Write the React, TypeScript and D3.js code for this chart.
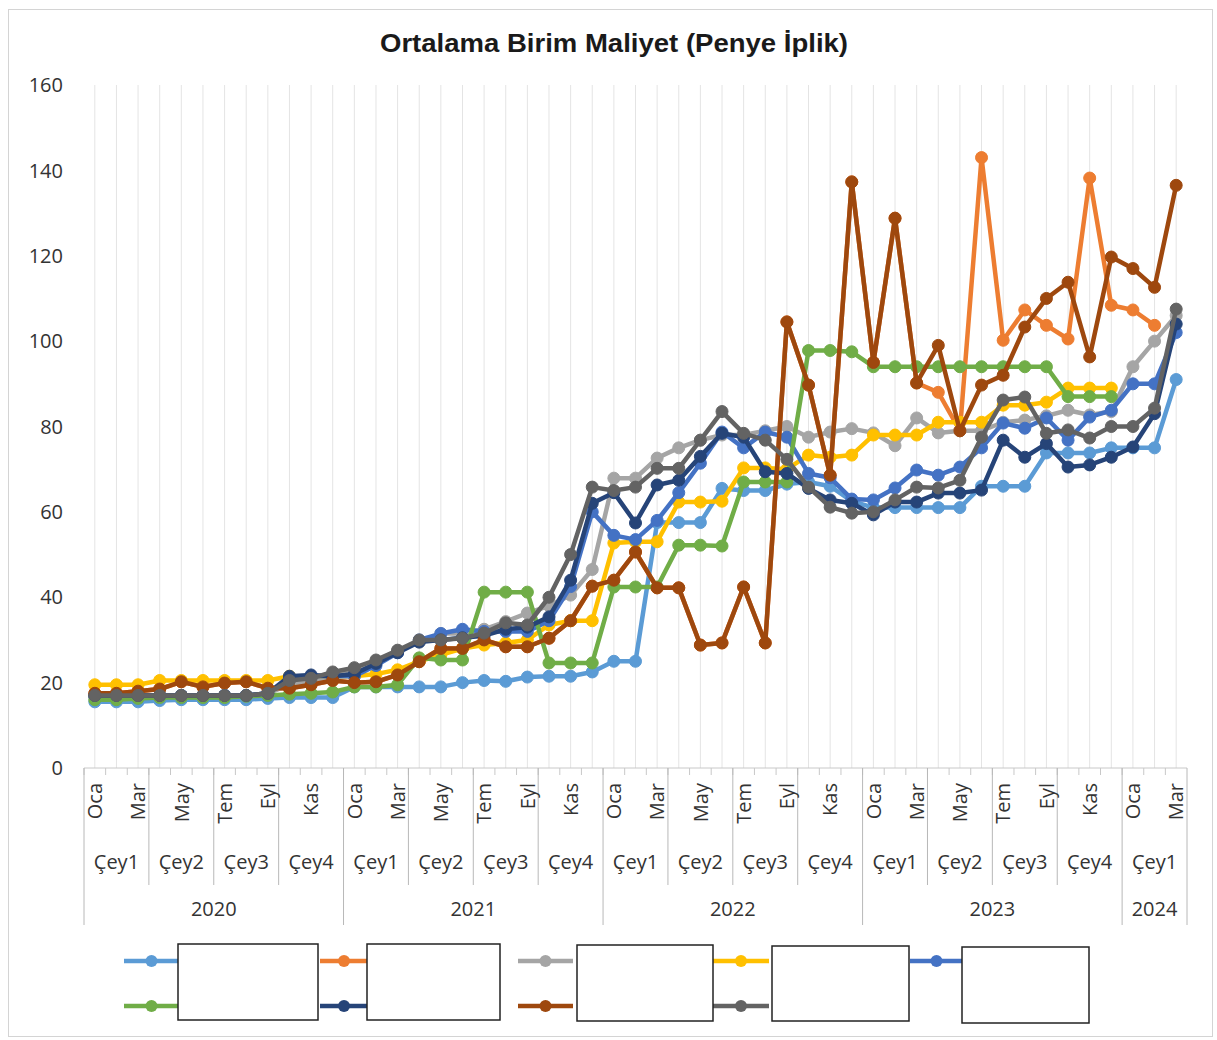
import React from "react";
import * as d3 from "d3";

const monthNames = ["Oca", "Şub", "Mar", "Nis", "May", "Haz", "Tem", "Ağu", "Eyl", "Eki", "Kas", "Ara"];
const quarterNames = ["Çey1", "Çey2", "Çey3", "Çey4"];
const yearNames = ["2020", "2021", "2022", "2023", "2024"];
const monthsPerYear = [12, 12, 12, 12, 3];
const yTicks = [0, 20, 40, 60, 80, 100, 120, 140, 160];
const titleText = "Ortalama Birim Maliyet (Penye İplik)";

type V = number | null;

const s1: V[] = [
  15.5, 15.5, 15.5, 15.8, 16, 16, 16, 16, 16.3, 16.5, 16.5, 16.5,
  19, 19, 19, 19, 19, 20, 20.5, 20.3, 21.3, 21.5, 21.5, 22.5,
  25, 25, 57.5, 57.5, 57.5, 65.5, 65, 65, 66.5, 67, 66, 62.5,
  61, 61, 61, 61, 61, 66, 66, 66, 73.8, 73.8, 73.8, 75,
  75, 75, 91,
];
const s2: V[] = [
  17.5, 17.5, 18, 18.5, 20.2, 19, 19.9, 20.2, 18.7, 18.7, 19.5, 20.5,
  20, 20.2, 21.8, 24.9, 28, 28, 30, 28.4, 28.4, 30.4, 34.5, 42.6,
  44, 50.6, 42.2, 42.2, 28.8, 29.3, 42.4, 29.3, 104.5, 89.7, 68.6, 137.3,
  95, 128.8, 90.2, 88, 79, 143, 100.2, 107.3, 103.7, 100.5, 138.2, 108.4,
  107.3, 103.7, null,
];
const s3: V[] = [
  17, 17, 17, 17, 17, 17, 17, 17, 17.5, 19.5, 20.5, 21.5,
  23, 25, 27.5, 29.5, 31.5, 31.5, 32.5, 34.3, 36.3, 38, 40.5, 46.5,
  67.9, 67.9, 72.6, 75, 76.8, 78, 78, 79, 80, 77.5, 78.7, 79.5,
  78.5, 75.5, 82, 78.5, 79, 79, 81, 81.5, 82.5, 83.8, 82.7, 83.5,
  94, 100, 106,
];
const s4: V[] = [
  19.5, 19.5, 19.5, 20.5, 20.5, 20.5, 20.5, 20.5, 20.5, 21.5, 21.5, 21.5,
  21.5, 22, 23, 25, 26.5, 28, 28.8, 29.3, 30, 33.5, 34.5, 34.5,
  52.7, 53, 53, 62.3, 62.3, 62.5, 70.3, 70.3, 70, 73.3, 72.8, 73.3,
  78, 78, 78, 81, 81, 81, 85, 85, 85.7, 89, 89, 89,
  null, null, null,
];
const s5: V[] = [
  16.8, 16.8, 17, 17, 17, 17, 17, 17, 17.5, 21, 21.5, 21.5,
  21.5, 24, 27, 30, 31.5, 32.5, 32, 32, 32, 34.5, 42.5, 60,
  54.5, 53.5, 58, 64.5, 71.4, 78.7, 75, 78.7, 77.5, 69, 68, 63,
  62.8, 65.6, 69.8, 68.6, 70.5, 75, 80.8, 79.6, 82, 76.8, 82.2, 83.8,
  90, 90, 102,
];
const s6: V[] = [
  16, 16, 16.3, 16.5, 16.5, 16.5, 16.5, 16.8, 17, 17.3, 17.5, 17.8,
  19, 19, 19.5, 25.8, 25.3, 25.3, 41.2, 41.2, 41.2, 24.6, 24.6, 24.6,
  42.4, 42.4, 42.4, 52.2, 52.2, 52, 67, 67, 67, 97.8, 97.8, 97.5,
  94, 94, 94, 94, 94, 94, 94, 94, 94, 87, 87, 87,
  null, null, null,
];
const s7: V[] = [
  17, 17, 17, 17, 17, 17, 17, 17, 17.5, 21.5, 21.8, 21.5,
  22, 24.5, 27, 29.5, 30, 30.5, 31, 32.5, 33, 35.4, 44, 62,
  64.5, 57.4, 66.3, 67.4, 73, 78.4, 77.5, 69.4, 69, 65.5, 62.8, 62,
  59.3, 62.3, 62.3, 64.4, 64.4, 65.1, 76.8, 72.8, 76, 70.5, 71, 72.8,
  75.2, 83, 104,
];
const s8: V[] = [
  17.5, 17.5, 18, 18.5, 20.2, 19, 19.9, 20.2, 18.7, 18.7, 19.5, 20.5,
  20, 20.2, 21.8, 24.9, 28, 28, 30, 28.4, 28.4, 30.4, 34.5, 42.6,
  44, 50.6, 42.2, 42.2, 28.8, 29.3, 42.4, 29.3, 104.5, 89.7, 68.6, 137.3,
  95, 128.8, 90.2, 99, 79, 89.7, 92, 103.3, 110, 113.8, 96.3, 119.7,
  117, 112.6, 136.5,
];
const s9: V[] = [
  17, 17, 17, 17, 17, 17, 17, 17, 17.5, 20.5, 21, 22.5,
  23.5, 25.3, 27.6, 30, 30, 30.4, 31.6, 34, 33.5, 40, 50, 65.8,
  65, 65.8, 70.2, 70.2, 76.8, 83.5, 78.4, 76.8, 72.3, 65.8, 61.1, 59.7,
  60, 62.8, 65.8, 65.6, 67.4, 77.5, 86.2, 86.9, 78.4, 79.2, 77.3, 80,
  80, 84.3, 107.5,
];

const seriesList: { values: V[]; color: string }[] = [
  { values: s1, color: "#5b9bd5" },
  { values: s2, color: "#ed7d31" },
  { values: s3, color: "#a5a5a5" },
  { values: s4, color: "#ffc000" },
  { values: s5, color: "#4472c4" },
  { values: s6, color: "#70ad47" },
  { values: s7, color: "#264478" },
  { values: s8, color: "#9e480e" },
  { values: s9, color: "#636363" },
];

const categories: { y: number; m: number }[] = [];
monthsPerYear.forEach((n, yi) => {
  for (let m = 0; m < n; m++) categories.push({ y: yi, m });
});

const W = 1217;
const H = 1040;
const plotLeft = 84;
const plotRight = 1187;
const plotTop = 85;
const plotBottom = 768;

const font = "'Open Sans', 'Noto Sans', sans-serif";

export default function App() {
  const x = d3
    .scaleBand<number>()
    .domain(categories.map((_, i) => i))
    .range([plotLeft, plotRight])
    .padding(0);
  const bw = x.bandwidth();
  const cx = (i: number) => (x(i) as number) + bw / 2;
  const y = d3.scaleLinear().domain([0, 160]).range([plotBottom, plotTop]);

  const line = d3
    .line<V>()
    .defined((d) => d != null)
    .x((_, i) => cx(i))
    .y((d) => y(d as number));

  const quarterBounds: number[] = [];
  const yearBounds: number[] = [];
  const quarterLabels: { x: number; t: string }[] = [];
  const yearLabels: { x: number; t: string }[] = [];
  let idx = 0;
  monthsPerYear.forEach((n, yi) => {
    const start = idx;
    yearBounds.push(start);
    for (let q = 0; q < Math.ceil(n / 3); q++) {
      const qs = start + q * 3;
      const qe = Math.min(start + n, qs + 3);
      if (q > 0) quarterBounds.push(qs);
      quarterLabels.push({ x: (x(qs)! + x(qe - 1)! + bw) / 2, t: quarterNames[q] });
    }
    yearLabels.push({ x: (x(start)! + x(start + n - 1)! + bw) / 2, t: yearNames[yi] });
    idx += n;
  });
  yearBounds.push(idx);
  const bx = (i: number) => (i >= categories.length ? plotRight : (x(i) as number));

  const legendRow1 = 961;
  const legendRow2 = 1006;
  const legendItems = [
    { s: 0, x1: 124, x2: 179, row: legendRow1 },
    { s: 1, x1: 320, x2: 368, row: legendRow1 },
    { s: 2, x1: 518, x2: 573, row: legendRow1 },
    { s: 3, x1: 713, x2: 769, row: legendRow1 },
    { s: 4, x1: 910, x2: 963, row: legendRow1 },
    { s: 5, x1: 124, x2: 179, row: legendRow2 },
    { s: 6, x1: 320, x2: 368, row: legendRow2 },
    { s: 7, x1: 518, x2: 573, row: legendRow2 },
    { s: 8, x1: 713, x2: 769, row: legendRow2 },
  ];
  const legendBoxes = [
    { x: 178, y: 944, w: 140, h: 76 },
    { x: 367, y: 944, w: 133, h: 76 },
    { x: 577, y: 945, w: 136, h: 76 },
    { x: 772, y: 946, w: 137, h: 75 },
    { x: 962, y: 947, w: 127, h: 76 },
  ];

  return (
    <svg
      width={W}
      height={H}
      style={{ position: "absolute", left: 0, top: 0, background: "#fff" }}
      fontFamily={font}
    >
      <rect x={0} y={0} width={W} height={H} fill="#fff" />
      <rect x={8.5} y={9.5} width={1204} height={1027} fill="none" stroke="#d4d4d4" strokeWidth={1} />

      <text
        x={614}
        y={52}
        textAnchor="middle"
        fontFamily="'Liberation Sans Narrow', 'Arial Narrow', 'Liberation Sans', sans-serif"
        fontWeight="bold"
        fontSize={26}
        textLength={468}
        lengthAdjust="spacingAndGlyphs"
        fill="#1a1a1a"
      >
        {titleText}
      </text>

      {categories.map((_, i) => (
        <line key={"g" + i} x1={cx(i)} x2={cx(i)} y1={plotTop} y2={plotBottom} stroke="#e4e4e4" strokeWidth={1} />
      ))}

      {yTicks.map((t) => (
        <text key={"yt" + t} x={63} y={y(t)} dy="0.36em" textAnchor="end" fontSize={20} fill="#333">
          {t}
        </text>
      ))}

      <line x1={plotLeft} x2={plotRight} y1={plotBottom} y2={plotBottom} stroke="#c8c8c8" strokeWidth={1} />
      {categories.map((_, i) => (
        <line key={"tk" + i} x1={bx(i)} x2={bx(i)} y1={plotBottom} y2={plotBottom + 7} stroke="#c8c8c8" strokeWidth={1} />
      ))}
      {quarterBounds.map((b) => (
        <line key={"qb" + b} x1={bx(b)} x2={bx(b)} y1={plotBottom} y2={885} stroke="#b8b8b8" strokeWidth={1} />
      ))}
      {yearBounds.map((b) => (
        <line key={"yb" + b} x1={bx(b)} x2={bx(b)} y1={plotBottom} y2={925} stroke="#b8b8b8" strokeWidth={1} />
      ))}

      {categories.map((c, i) =>
        c.m % 2 === 0 ? (
          <text
            key={"m" + i}
            transform={`translate(${cx(i)},${783}) rotate(-90)`}
            textAnchor="end"
            dy="0.36em"
            fontSize={20}
            fill="#333"
          >
            {monthNames[c.m]}
          </text>
        ) : null
      )}
      {quarterLabels.map((q, i) => (
        <text key={"q" + i} x={q.x} y={862} dy="0.36em" textAnchor="middle" fontSize={20} fill="#333">
          {q.t}
        </text>
      ))}
      {yearLabels.map((q, i) => (
        <text key={"yl" + i} x={q.x} y={909} dy="0.36em" textAnchor="middle" fontSize={20} fill="#333">
          {q.t}
        </text>
      ))}

      {seriesList.map((s, si) => (
        <g key={"s" + si}>
          <path d={line(s.values) || ""} fill="none" stroke={s.color} strokeWidth={4.5} strokeLinejoin="round" />
          {s.values.map((v, i) =>
            v == null ? null : <circle key={i} cx={cx(i)} cy={y(v)} r={6} fill={s.color} stroke={s.color} strokeWidth={1} />
          )}
        </g>
      ))}

      {legendItems.map((it, i) => {
        const c = seriesList[it.s].color;
        return (
          <g key={"lg" + i}>
            <line x1={it.x1} x2={it.x2} y1={it.row} y2={it.row} stroke={c} strokeWidth={4.5} />
            <circle cx={(it.x1 + it.x2) / 2} cy={it.row} r={6} fill={c} />
          </g>
        );
      })}
      {legendBoxes.map((b, i) => (
        <rect key={"lb" + i} x={b.x} y={b.y} width={b.w} height={b.h} fill="#fff" stroke="#222" strokeWidth={1.5} />
      ))}
    </svg>
  );
}
